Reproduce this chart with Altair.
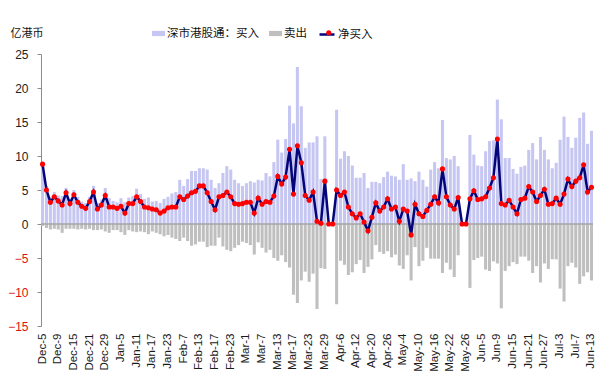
import altair as alt
import pandas as pd

# ---------------- data ----------------
tick_labels = ["Dec-5", "Dec-9", "Dec-15", "Dec-21", "Dec-29", "Jan-5", "Jan-11", "Jan-17",
               "Jan-23", "Feb-7", "Feb-13", "Feb-17", "Feb-23", "Mar-1", "Mar-7", "Mar-13",
               "Mar-17", "Mar-23", "Mar-29", "Apr-6", "Apr-12", "Apr-20", "Apr-26", "May-4",
               "May-10", "May-16", "May-22", "May-26", "Jun-5", "Jun-9", "Jun-15", "Jun-21",
               "Jun-27", "Jul-3", "Jul-7", "Jun-13"]

buy = [9.1, 5.6, 4.0, 4.7, 4.2, 4.1, 5.3, 3.7, 5.0, 4.0,
       3.3, 3.1, 4.0, 5.6, 3.1, 3.6, 5.3, 3.8, 3.4, 3.2,
       3.8, 3.2, 3.9, 4.1, 5.2, 4.4, 3.7, 3.9, 3.3, 3.4,
       3.1, 3.7, 4.0, 4.5, 4.7, 6.5, 5.6, 6.6, 7.8, 7.8,
       8.2, 8.2, 8.0, 6.5, 5.3, 6.0, 7.5, 8.5, 8.0, 6.5,
       6.0, 5.6, 6.0, 6.3, 6.1, 6.5, 6.4, 7.5, 7.0, 9.1,
       12.4, 10.5, 12.5, 17.4, 14.8, 23.1, 17.3, 11.2, 12.0, 12.0,
       12.9, 6.6, 12.9, 0.0, 0.0, 16.8, 9.6, 10.7, 10.0, 8.6,
       6.8, 6.8, 7.5, 5.3, 6.2, 6.2, 6.0, 6.9, 7.7, 7.1,
       7.0, 6.5, 8.8, 6.5, 6.7, 6.3, 7.7, 6.5, 5.5, 8.0,
       9.1, 8.2, 15.3, 9.7, 9.5, 10.0, 8.5, 0.0, 0.0, 13.1,
       10.2, 8.6, 8.5, 10.7, 12.2, 12.3, 18.3, 15.4, 9.7, 9.7,
       8.1, 7.4, 8.4, 8.6, 10.9, 11.9, 9.5, 12.8, 10.9, 9.5,
       8.2, 9.0, 12.4, 15.8, 12.8, 11.2, 12.7, 15.6, 16.4, 11.8,
       13.7]

sell = [-0.3, -0.6, -0.8, -0.7, -0.8, -1.3, -0.7, -0.7, -0.7, -0.8,
        -0.7, -0.8, -0.7, -0.9, -0.9, -0.8, -1.1, -1.3, -0.9, -0.9,
        -1.2, -1.6, -0.9, -1.1, -1.2, -1.1, -1.2, -1.5, -1.1, -1.3,
        -1.5, -1.8, -1.6, -2.0, -2.2, -2.5, -2.0, -2.5, -3.2, -3.0,
        -2.6, -2.6, -3.4, -3.2, -3.2, -2.0, -3.3, -3.8, -4.0, -3.5,
        -3.1, -2.6, -2.8, -3.1, -4.5, -2.7, -3.5, -4.2, -3.8, -5.0,
        -5.4, -4.6, -5.6, -6.4, -10.4, -11.6, -8.3, -7.0, -8.5, -7.3,
        -12.5, -6.5, -6.6, 0.0, 0.0, -11.8, -5.4, -6.0, -7.5, -7.1,
        -5.9, -5.3, -7.2, -6.3, -5.2, -3.1, -4.1, -4.4, -4.0, -4.9,
        -4.5, -6.1, -6.6, -4.6, -8.3, -3.4, -6.2, -5.4, -3.5, -5.1,
        -5.1, -5.1, -7.2, -5.7, -6.7, -7.8, -4.6, 0.0, 0.0, -9.4,
        -5.3, -5.0, -4.8, -6.7, -6.9, -5.5, -5.8, -12.4, -6.9, -6.2,
        -5.6, -5.9, -4.8, -4.8, -5.4, -7.2, -6.2, -8.6, -5.8, -6.6,
        -5.2, -5.2, -9.5, -11.4, -6.2, -5.7, -6.4, -8.8, -7.7, -7.1,
        -8.3]

net = [8.8, 5.0, 3.2, 4.0, 3.4, 2.8, 4.6, 3.0, 4.3, 3.2,
       2.6, 2.3, 3.3, 4.7, 2.2, 2.8, 4.2, 2.5, 2.5, 2.3,
       2.6, 1.6, 3.0, 3.0, 4.0, 3.3, 2.5, 2.4, 2.2, 2.1,
       1.6, 1.9, 2.4, 2.5, 2.5, 4.0, 3.6, 4.1, 4.6, 4.8,
       5.6, 5.6, 4.6, 3.3, 2.1, 4.0, 4.2, 4.7, 4.0, 3.0,
       2.9, 3.0, 3.2, 3.2, 1.6, 3.8, 2.9, 3.3, 3.2, 4.1,
       7.0, 5.9, 6.9, 11.0, 4.4, 11.5, 9.0, 4.2, 3.5, 4.7,
       0.4, 0.1, 6.3, 0.0, 0.0, 5.0, 4.2, 4.7, 2.5, 1.5,
       0.9, 1.5, 0.3, -1.0, 1.0, 3.1, 1.9, 2.5, 3.7, 2.2,
       2.5, 0.4, 2.2, 1.9, -1.6, 2.9, 1.5, 1.1, 2.0, 2.9,
       4.0, 3.1, 8.1, 4.0, 2.8, 2.2, 3.9, 0.0, 0.0, 3.7,
       4.9, 3.6, 3.7, 4.0, 5.3, 6.8, 12.5, 3.0, 2.8, 3.5,
       2.5, 1.5, 3.6, 3.8, 5.5, 4.7, 3.3, 4.2, 5.1, 2.9,
       3.0, 3.8, 2.9, 4.4, 6.6, 5.5, 6.3, 6.8, 8.7, 4.7,
       5.4]

buy_name = "深市港股通：买入"
sell_name = "卖出"
net_name = "净买入"
marker_key = "net_marker"
y_ticks = [-15, -10, -5, 0, 5, 10, 15, 20, 25]

# ---------------- tables ----------------
n = len(net)
idx = list(range(n))
bars = pd.DataFrame({
    "i": idx * 2,
    "series": [buy_name] * n + [sell_name] * n,
    "value": buy + sell,
})
line = pd.DataFrame({"i": idx, "value": net, "lname": [net_name] * n, "pname": [marker_key] * n})

CJK = "Noto Sans CJK SC"
LAT = "Liberation Sans"

label_expr = "[" + ",".join("'%s'" % t for t in tick_labels) + "][datum.value / 4]"

x_enc = alt.X(
    "i:O",
    scale=alt.Scale(paddingInner=0.22, paddingOuter=0),
    axis=alt.Axis(
        values=list(range(0, n, 4)), labelExpr=label_expr, labelAngle=270,
        ticks=False, domain=False, labelPadding=7, labelFont=LAT, labelFontSize=11.5,
        labelColor="#1a1a1a", labelOverlap=False, title=None, grid=False,
    ),
)

y_scale = alt.Scale(domain=[-15, 25], nice=False, zero=True)
y_axis = alt.Axis(
    values=y_ticks, grid=False, domainColor="#8c8c8c", tickColor="#8c8c8c",
    tickSize=4, labelPadding=9, labelFont=LAT, labelFontSize=12,
    labelColor={"condition": {"test": "datum.value < 0", "value": "#e01010"},
                "value": "#222222"},
    title="亿港币", titleAngle=0, titleX=-31, titleY=-21, titleAlign="left",
    titleBaseline="middle", titleFont=CJK, titleFontSize=11, titleFontWeight="normal",
    titleColor="#111111",
)

bar_layer = alt.Chart(bars).mark_bar().encode(
    x=x_enc,
    y=alt.Y("value:Q", scale=y_scale, stack=None, axis=y_axis),
    color=alt.Color(
        "series:N",
        scale=alt.Scale(domain=[buy_name, sell_name], range=["#c6c6f2", "#bfbfbf"]),
        legend=alt.Legend(
            orient="none", legendX=111, legendY=-27, direction="horizontal", title=None,
            symbolType="M-1,-0.4H1V0.4H-1Z", symbolSize=169, symbolStrokeWidth=0,
            labelFont=CJK, labelFontSize=11.5, labelColor="#111111", labelOffset=2,
            columnPadding=10, padding=0,
        ),
    ),
)

zero_rule = alt.Chart(pd.DataFrame({"value": [0]})).mark_rule(color="#a6a6a6", strokeWidth=1.5).encode(
    y=alt.Y("value:Q", scale=y_scale, axis=y_axis)
)

line_layer = alt.Chart(line).mark_line(strokeWidth=2.5).encode(
    x=alt.X("i:O"),
    y=alt.Y("value:Q", scale=y_scale, axis=y_axis),
    stroke=alt.Stroke(
        "lname:N", scale=alt.Scale(domain=[net_name], range=["#05057a"]),
        legend=alt.Legend(
            orient="none", legendX=277, legendY=-28.5, title=None, symbolType="stroke",
            symbolSize=225, symbolStrokeWidth=2.5, labelFont=CJK, labelFontSize=11.5,
            labelColor="#111111", labelOffset=2, padding=0,
        ),
    ),
)

point_layer = alt.Chart(line).mark_point(filled=True, size=26, color="#ff0000", opacity=1).encode(
    x=alt.X("i:O"),
    y=alt.Y("value:Q", scale=y_scale, axis=y_axis),
    shape=alt.Shape(
        "pname:N", scale=alt.Scale(domain=[marker_key], range=["circle"]),
        legend=alt.Legend(
            orient="none", legendX=282, legendY=-27, title=None, symbolSize=26,
            symbolFillColor="#ff0000", symbolStrokeColor="#ff0000", symbolStrokeWidth=0,
            labelExpr="''", labelFont=CJK, labelFontSize=11.5, padding=0,
        ),
    ),
)

chart = (
    alt.layer(bar_layer, zero_rule, line_layer, point_layer)
    .resolve_scale(y="shared")
    .properties(
        width=552, height=272,
        autosize=alt.AutoSizeParams(type="none"),
        padding={"left": 33, "top": 46, "right": 8, "bottom": 54},
        background="white",
    )
    .configure_view(stroke=None)
)

chart.save("out.html", embed_options={"renderer": "svg", "actions": False})
